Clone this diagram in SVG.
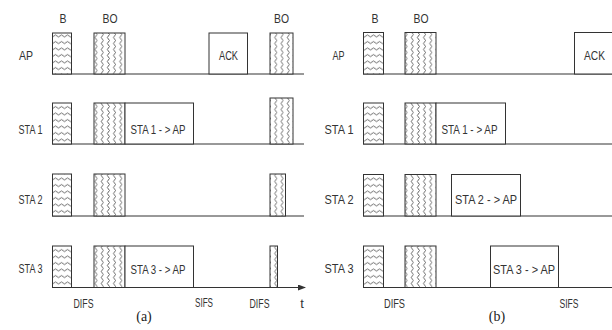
<svg xmlns="http://www.w3.org/2000/svg" width="612" height="330" viewBox="0 0 612 330">
<style>
.t{font-family:"Liberation Sans",Arial,sans-serif;font-size:13px;fill:#333;text-anchor:middle}
.cap{font-family:"Liberation Serif","Times New Roman",serif;font-size:14px;fill:#222;text-anchor:middle}
.bx{stroke:#333;stroke-width:1;fill:#fff}
.b{stroke:#333;stroke-width:1;fill:url(#hw)}
.bo{stroke:#333;stroke-width:1;fill:url(#vw)}
.ln{stroke:#333;stroke-width:1;fill:none}
</style>
<defs>
<pattern id="hw" patternUnits="userSpaceOnUse" width="6" height="6.5"><rect width="6" height="6.5" fill="#fff"/><path d="M0,3.5 Q1.5,1.5 3,3.5 T6,3.5" fill="none" stroke="#333" stroke-width="0.75"/></pattern>
<pattern id="vw" patternUnits="userSpaceOnUse" width="6.2" height="6"><rect width="6.2" height="6" fill="#fff"/><path d="M3,0 Q1,1.5 3,3 T3,6" fill="none" stroke="#333" stroke-width="0.75"/></pattern>
<marker id="arr" markerWidth="8" markerHeight="6" refX="7" refY="3" orient="auto" markerUnits="userSpaceOnUse"><path d="M0,0 L8,3 L0,6 Z" fill="#333"/></marker>
</defs>
<rect width="612" height="330" fill="#fff"/>

<g id="connectors">
<line class="ln" x1="52" y1="74" x2="304" y2="74"/>
<line class="ln" x1="52" y1="144" x2="304" y2="144"/>
<line class="ln" x1="52" y1="216" x2="304" y2="216"/>
<line class="ln" x1="52" y1="287.5" x2="305" y2="287.5" marker-end="url(#arr)"/>
<line class="ln" x1="363" y1="74" x2="612" y2="74"/>
<line class="ln" x1="363" y1="144" x2="612" y2="144"/>
<line class="ln" x1="363" y1="216" x2="612" y2="216"/>
<line class="ln" x1="363" y1="287.5" x2="612" y2="287.5"/>
</g>

<!-- Panel (a) -->
<g id="a-labels">
<text class="t" x="63" y="23" textLength="7" lengthAdjust="spacingAndGlyphs">B</text>
<text class="t" x="110" y="23" textLength="15" lengthAdjust="spacingAndGlyphs">BO</text>
<text class="t" x="281.5" y="23" textLength="15" lengthAdjust="spacingAndGlyphs">BO</text>
<text class="t" x="26" y="60" textLength="14" lengthAdjust="spacingAndGlyphs">AP</text>
<text class="t" x="30.5" y="134" textLength="24" lengthAdjust="spacingAndGlyphs">STA 1</text>
<text class="t" x="30.5" y="204" textLength="24" lengthAdjust="spacingAndGlyphs">STA 2</text>
<text class="t" x="30.5" y="273" textLength="24" lengthAdjust="spacingAndGlyphs">STA 3</text>
<text class="t" x="83.5" y="308" textLength="20" lengthAdjust="spacingAndGlyphs">DIFS</text>
<text class="t" x="204" y="307" textLength="18" lengthAdjust="spacingAndGlyphs">SIFS</text>
<text class="t" x="259.5" y="308" textLength="20" lengthAdjust="spacingAndGlyphs">DIFS</text>
<text class="t" x="302" y="308">t</text>
<text class="cap" x="144" y="321">(a)</text>
</g>
<g id="a-ap">
<rect class="b" x="52.5" y="33" width="19" height="41"/>
<rect class="bo" x="94" y="33" width="31" height="41"/>
<rect class="bx" x="209" y="33" width="38.5" height="41"/>
<text class="t" x="228.5" y="59.5" textLength="19" lengthAdjust="spacingAndGlyphs">ACK</text>
<rect class="bo" x="270" y="33" width="23" height="41"/>
</g>
<g id="a-sta1">
<rect class="b" x="52.5" y="103" width="19" height="41"/>
<rect class="bo" x="94" y="103" width="31" height="41"/>
<rect class="bx" x="125" y="103" width="68.5" height="41"/>
<text class="t" x="158" y="134" textLength="55" lengthAdjust="spacingAndGlyphs">STA 1 - &gt; AP</text>
<rect class="bo" x="270" y="98" width="23" height="46"/>
</g>
<g id="a-sta2">
<rect class="b" x="52.5" y="174" width="19" height="42"/>
<rect class="bo" x="94" y="174" width="31" height="42"/>
<rect class="bo" x="270" y="174" width="15.5" height="42"/>
</g>
<g id="a-sta3">
<rect class="b" x="52.5" y="246" width="19" height="41.5"/>
<rect class="bo" x="94" y="246" width="31" height="41.5"/>
<rect class="bx" x="125" y="246" width="68.5" height="41.5"/>
<text class="t" x="158" y="274" textLength="55" lengthAdjust="spacingAndGlyphs">STA 3 - &gt; AP</text>
<rect class="bo" x="270" y="246" width="7.5" height="41.5"/>
</g>

<!-- Panel (b) -->
<g id="b-labels">
<text class="t" x="375" y="23" textLength="7" lengthAdjust="spacingAndGlyphs">B</text>
<text class="t" x="421" y="23" textLength="15" lengthAdjust="spacingAndGlyphs">BO</text>
<text class="t" x="338.5" y="60" textLength="12" lengthAdjust="spacingAndGlyphs">AP</text>
<text class="t" x="339" y="134" textLength="29" lengthAdjust="spacingAndGlyphs">STA 1</text>
<text class="t" x="339" y="204" textLength="29" lengthAdjust="spacingAndGlyphs">STA 2</text>
<text class="t" x="339" y="273" textLength="29" lengthAdjust="spacingAndGlyphs">STA 3</text>
<text class="t" x="394.5" y="308" textLength="21" lengthAdjust="spacingAndGlyphs">DIFS</text>
<text class="t" x="569" y="308" textLength="19" lengthAdjust="spacingAndGlyphs">SIFS</text>
<text class="cap" x="497" y="321">(b)</text>
</g>
<g id="b-ap">
<rect class="b" x="363.5" y="32.5" width="20" height="41.5"/>
<rect class="bo" x="405" y="32.5" width="31" height="41.5"/>
<rect class="bx" x="574.5" y="32.5" width="50" height="41.5"/>
<text class="t" x="594.5" y="59.5" textLength="21" lengthAdjust="spacingAndGlyphs">ACK</text>
</g>
<g id="b-sta1">
<rect class="b" x="363.5" y="103" width="20" height="41"/>
<rect class="bo" x="405" y="103" width="31" height="41"/>
<rect class="bx" x="436" y="103" width="69.5" height="41"/>
<text class="t" x="469.5" y="134" textLength="56" lengthAdjust="spacingAndGlyphs">STA 1 - &gt; AP</text>
</g>
<g id="b-sta2">
<rect class="b" x="363.5" y="174.5" width="20" height="41.5"/>
<rect class="bo" x="405" y="174.5" width="31" height="41.5"/>
<rect class="bx" x="451.5" y="174.5" width="69" height="41.5"/>
<text class="t" x="486" y="204" textLength="62" lengthAdjust="spacingAndGlyphs">STA 2 - &gt; AP</text>
</g>
<g id="b-sta3">
<rect class="b" x="363.5" y="246" width="20" height="41.5"/>
<rect class="bo" x="405" y="246" width="31" height="41.5"/>
<rect class="bx" x="490.5" y="246" width="68" height="41.5"/>
<text class="t" x="524" y="274" textLength="62" lengthAdjust="spacingAndGlyphs">STA 3 - &gt; AP</text>
</g>
</svg>
